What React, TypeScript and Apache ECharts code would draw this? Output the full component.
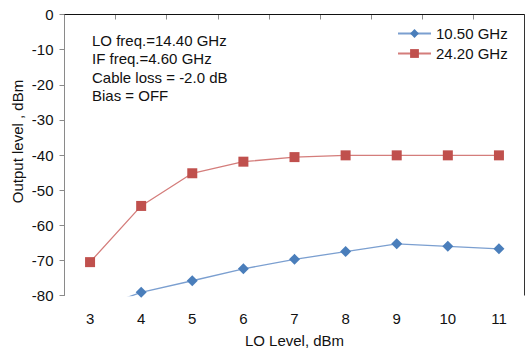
import React, { useEffect, useRef } from "react";
import * as echarts from "echarts";

const categories = ["3", "4", "5", "6", "7", "8", "9", "10", "11"];
const series1050 = [-84.4, -79.1, -75.8, -72.4, -69.7, -67.5, -65.3, -66.0, -66.7];
const series2420 = [-70.5, -54.5, -45.2, -41.9, -40.6, -40.1, -40.1, -40.1, -40.1];
const seriesNames = ["10.50 GHz", "24.20 GHz"];
const infoLines = ["LO freq.=14.40 GHz", "IF freq.=4.60 GHz", "Cable loss = -2.0 dB", "Bias = OFF"];
const yTitle = "Output level , dBm";
const xTitle = "LO Level, dBm";

const FONT = "'Liberation Sans', Arial, sans-serif";
const FS = 15;

export default function App() {
  const ref = useRef<HTMLDivElement>(null);
  useEffect(() => {
    if (!ref.current) return;
    const chart = echarts.init(ref.current, undefined, { renderer: "svg" });
    const gl = 64.5, gr = 524.5, gt = 14.5, gb = 295.5;
    chart.setOption({
      animation: false,
      backgroundColor: "#ffffff",
      textStyle: { fontFamily: FONT },
      grid: {
        left: gl,
        right: 526 - gr,
        top: gt,
        bottom: 353 - gb,
        containLabel: false,
        outerBoundsMode: "none",
      },
      legend: {
        orient: "vertical",
        left: 392,
        top: 21,
        itemWidth: 33,
        itemHeight: 11,
        itemGap: 5,
        textStyle: { fontFamily: FONT, fontSize: FS, color: "#111" },
        data: seriesNames,
      },
      xAxis: {
        type: "category",
        data: categories,
        boundaryGap: true,
        name: xTitle,
        nameLocation: "middle",
        nameGap: 37,
        nameTextStyle: { fontFamily: FONT, fontSize: FS, color: "#111" },
        axisLine: { lineStyle: { color: "#8a8a8a", width: 1 } },
        axisTick: { show: true, alignWithLabel: false, length: 5, lineStyle: { color: "#8a8a8a" } },
        axisLabel: { fontFamily: FONT, fontSize: FS, color: "#111", margin: 15 },
        splitLine: { show: false },
      },
      yAxis: {
        type: "value",
        min: -80,
        max: 0,
        interval: 10,
        axisLine: { show: true, lineStyle: { color: "#8a8a8a", width: 1 } },
        axisTick: { show: true, length: 5, lineStyle: { color: "#8a8a8a" } },
        axisLabel: { fontFamily: FONT, fontSize: FS, color: "#111", margin: 11 },
        splitLine: { show: false },
      },
      graphic: [
        { type: "line", shape: { x1: gl, y1: gt, x2: gr, y2: gt }, style: { stroke: "#111", lineWidth: 1 }, z: 10 },
        { type: "line", shape: { x1: gr, y1: gt, x2: gr, y2: gb }, style: { stroke: "#333", lineWidth: 1 }, z: 10 },
        {
          type: "text",
          x: 17.5,
          y: 141.5,
          rotation: Math.PI / 2,
          style: {
            text: yTitle,
            font: `${FS}px ${FONT}`,
            fill: "#111",
            align: "center",
            verticalAlign: "middle",
          },
        },
        {
          type: "text",
          left: 92,
          top: 31,
          style: {
            text: infoLines.join("\n"),
            font: `${FS}px ${FONT}`,
            fill: "#111",
            lineHeight: 18.4,
          },
        },
      ],
      series: [
        {
          name: seriesNames[0],
          type: "line",
          data: series1050,
          clip: true,
          symbol: "diamond",
          symbolSize: 11,
          itemStyle: { color: "#4a7ebb" },
          lineStyle: { color: "#7b9fd0", width: 1.3 },
        },
        {
          name: seriesNames[1],
          type: "line",
          data: series2420,
          clip: true,
          symbol: "rect",
          symbolSize: 10,
          itemStyle: { color: "#c0504d" },
          lineStyle: { color: "#d47d7b", width: 1.3 },
        },
      ],
    });
    return () => chart.dispose();
  }, []);
  return (
    <div
      ref={ref}
      style={{ position: "absolute", left: 0, top: 0, width: 526, height: 353 }}
    />
  );
}
